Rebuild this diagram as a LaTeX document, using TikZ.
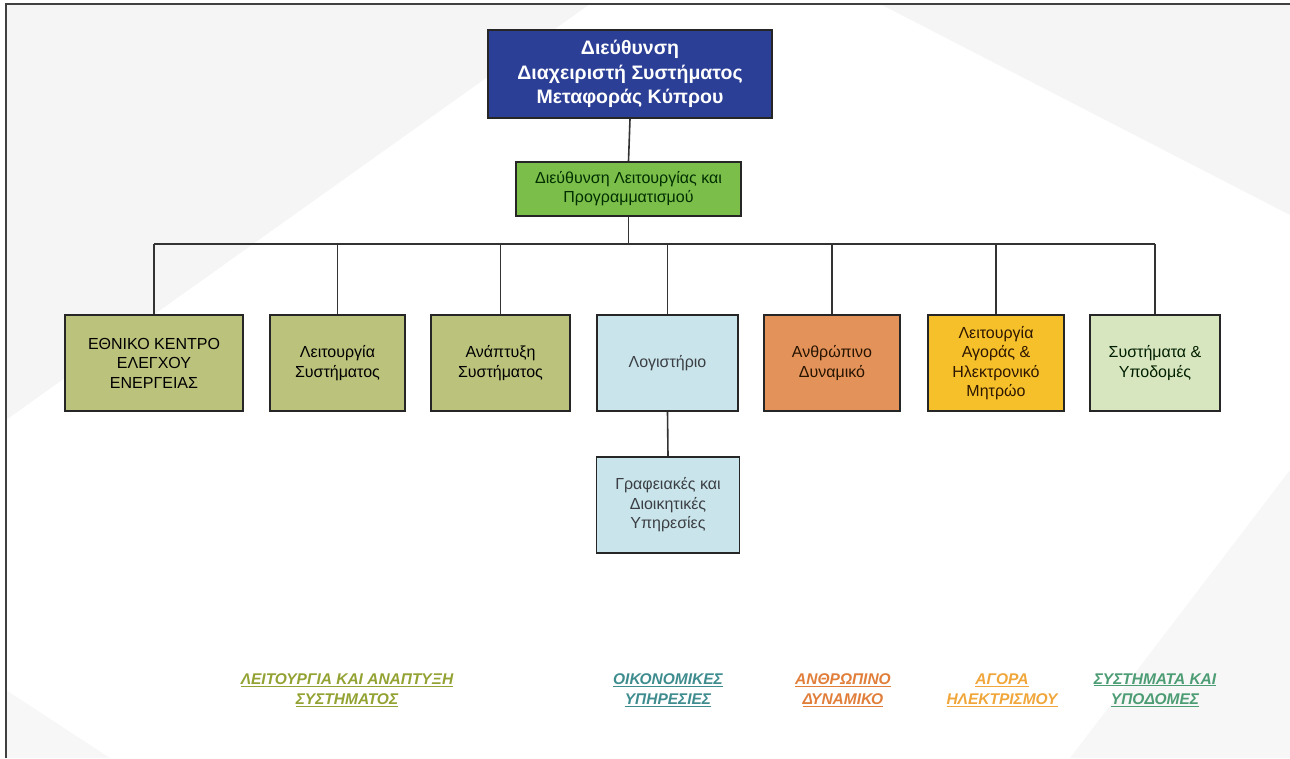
\documentclass[tikz,border=0pt]{standalone}
\usepackage{fontspec}
\setmainfont{Liberation Sans}
\usetikzlibrary{positioning}

\definecolor{topblue}{HTML}{2C3F96}
\definecolor{opgreen}{HTML}{7BBE4A}
\definecolor{olivebox}{HTML}{BBC27C}
\definecolor{paleblue}{HTML}{C9E4EA}
\definecolor{hrorange}{HTML}{E3935A}
\definecolor{mktgold}{HTML}{F6C02B}
\definecolor{palegreen}{HTML}{D8E6C0}
\definecolor{lgolive}{HTML}{93A232}
\definecolor{lgteal}{HTML}{3E8C8E}
\definecolor{lgorange}{HTML}{E07E3A}
\definecolor{lgyellow}{HTML}{F0A63A}
\definecolor{lggreen}{HTML}{4C9C74}

\begin{document}
\begin{tikzpicture}[x=1pt,y=-1pt,
  box/.style={draw=black!85,line width=1.8pt,align=center,inner sep=2pt,
    font=\fontsize{16}{19.5}\selectfont},
  unit/.style={box,minimum height=96pt},
  link/.style={draw=black!80,line width=1.6pt},
  legend/.style={align=center,font=\fontsize{15.5}{20}\selectfont\bfseries\itshape}]
\useasboundingbox (0,0) rectangle (1290,758);
% background
\fill[black!4] (6,4) -- (590,4) -- (6,420) -- cycle;
\fill[black!4] (880,4) -- (1290,4) -- (1290,215) -- cycle;
\fill[black!3] (1290,470) -- (1290,758) -- (1070,758) -- cycle;
\fill[black!3] (6,690) -- (6,758) -- (110,758) -- cycle;
\draw[black!75,line width=1.2pt] (6,758) -- (6,4) -- (1290,4);

% top of the chart
\node[box,fill=topblue,text=white,minimum width=284pt,minimum height=88pt,
  font=\fontsize{19.5}{24.5}\selectfont\bfseries] (dir) at (630,74)
  {Διεύθυνση\\Διαχειριστή Συστήματος\\Μεταφοράς Κύπρου};
\node[box,fill=opgreen,text=black!70!green!60!black,minimum width=225pt,minimum height=54pt,
  font=\fontsize{16}{19}\selectfont] (ops) at (628.5,189)
  {Διεύθυνση Λειτουργίας και\\Προγραμματισμού};
\coordinate (bus) at (0,244);

% departments
\node[unit,fill=olivebox,minimum width=178pt] (necc) at (154,363)
  {ΕΘΝΙΚΟ ΚΕΝΤΡΟ\\ΕΛΕΓΧΟΥ\\ΕΝΕΡΓΕΙΑΣ};
\node[unit,fill=olivebox,minimum width=135pt] (sysop) at (337.5,363)
  {Λειτουργία\\Συστήματος};
\node[unit,fill=olivebox,minimum width=139pt] (sysdev) at (500.5,363)
  {Ανάπτυξη\\Συστήματος};
\node[unit,fill=paleblue,text=black!60!cyan!40!black,minimum width=141pt] (acc) at (667.5,363)
  {Λογιστήριο};
\node[unit,fill=hrorange,text=black!70!orange!50!black,minimum width=136pt] (hr) at (832,363)
  {Ανθρώπινο\\Δυναμικό};
\node[unit,fill=mktgold,text=black!70!orange!60!black,minimum width=136pt] (mkt) at (996,363)
  {Λειτουργία\\Αγοράς \&\\Ηλεκτρονικό\\Μητρώο};
\node[unit,fill=palegreen,text=black!70!green!40!black,minimum width=130pt] (infra) at (1155,363)
  {Συστήματα \&\\Υποδομές};
\node[unit,fill=paleblue,text=black!60!cyan!40!black,minimum width=143pt] (admin) at (668,505)
  {Γραφειακές και\\Διοικητικές\\Υπηρεσίες};

% connectors
\draw[link] (dir.south) -- (ops.north);
\draw[link] (ops.south) -- (ops.south |- bus);
\draw[link] (necc.north |- bus) -- (infra.north |- bus);
\foreach \u in {necc,sysop,sysdev,acc,hr,mkt,infra}
  \draw[link] (\u.north |- bus) -- (\u.north);
\draw[link] (acc.south) -- (admin.north);

% legend
\node[legend,text=lgolive] (lgsys) at (347,690)
  {\underline{ΛΕΙΤΟΥΡΓΙΑ ΚΑΙ ΑΝΑΠΤΥΞΗ}\\\underline{ΣΥΣΤΗΜΑΤΟΣ}};
\node[legend,text=lgteal] (lgfin) at (668,690)
  {\underline{ΟΙΚΟΝΟΜΙΚΕΣ}\\\underline{ΥΠΗΡΕΣΙΕΣ}};
\node[legend,text=lgorange] (lghr) at (843,690)
  {\underline{ΑΝΘΡΩΠΙΝΟ}\\\underline{ΔΥΝΑΜΙΚΟ}};
\node[legend,text=lgyellow] (lgmkt) at (1002,690)
  {\underline{ΑΓΟΡΑ}\\\underline{ΗΛΕΚΤΡΙΣΜΟΥ}};
\node[legend,text=lggreen] (lginfra) at (1155,690)
  {\underline{ΣΥΣΤΗΜΑΤΑ ΚΑΙ}\\\underline{ΥΠΟΔΟΜΕΣ}};
\end{tikzpicture}
\end{document}
